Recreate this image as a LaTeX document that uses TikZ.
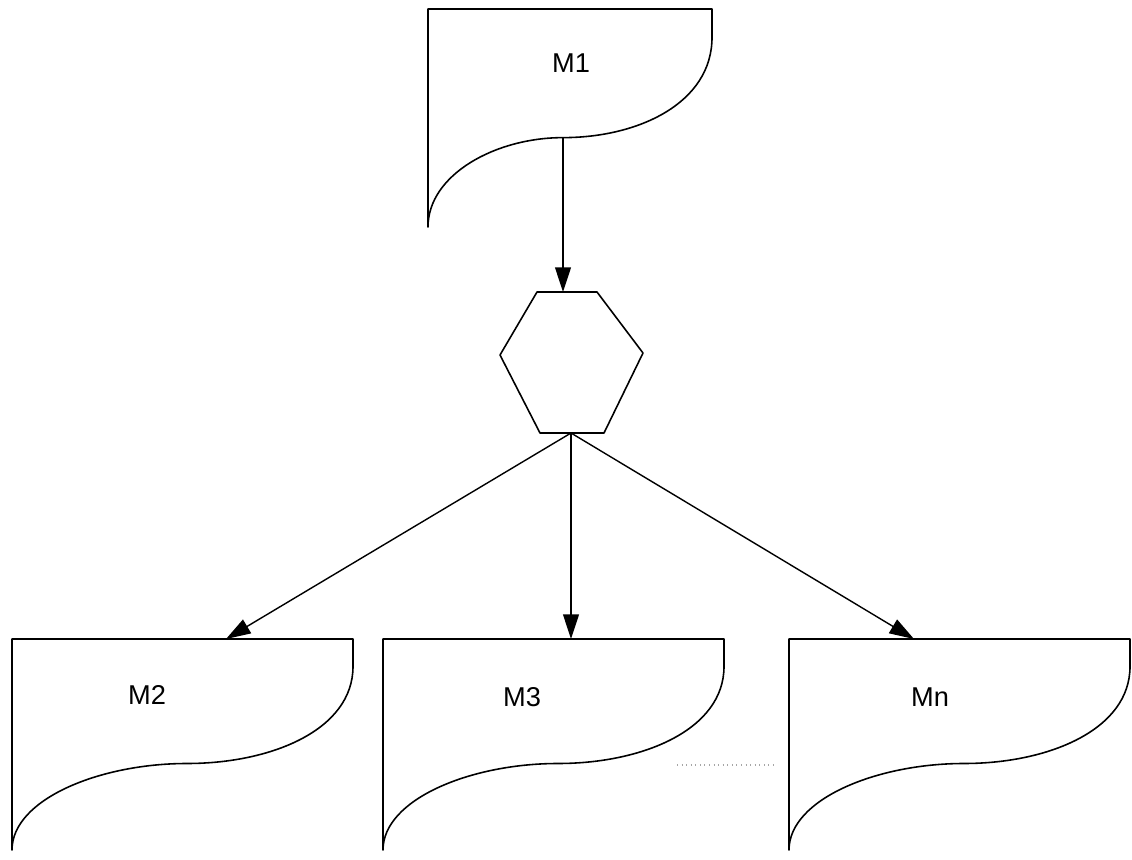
\documentclass[tikz,border=0pt]{standalone}
\usepackage{fontspec}
\setmainfont{Liberation Sans}
\usetikzlibrary{arrows.meta}
\tikzset{
  shapeline/.style={draw=black, line width=0.9pt, line join=round},
  conn/.style={draw=black, line width=0.8pt, -{Triangle[length=14pt,width=9pt]}},
  lbl/.style={font=\fontsize{15.5}{18}\selectfont, inner sep=0pt},
  dots/.style={draw=gray!70, line width=0.6pt, dotted}
}
% #1 x0, #2 y0 (top), #3 x1, #4 xm (x of flat middle of curve), #5 height
\newcommand\memshape[5]{%
  \pgfmathsetmacro\mya{#2+0.13*#5}%
  \pgfmathsetmacro\myb{#2+0.43*#5}%
  \pgfmathsetmacro\myc{#2+0.59*#5}%
  \pgfmathsetmacro\myd{#2+0.76*#5}%
  \pgfmathsetmacro\mye{#2+#5}%
  \pgfmathsetmacro\myf{#3-0.49*(#3-#4)}%
  \pgfmathsetmacro\myg{#4-0.5*(#4-#1)}%
  \draw[shapeline] (#1,#2) -- (#3,#2) -- (#3,\mya)
    .. controls (#3,\myb) and (\myf,\myc) .. (#4,\myc)
    .. controls (\myg,\myc) and (#1,\myd) .. (#1,\mye) -- cycle;
}
\begin{document}
\begin{tikzpicture}[x=0.02cm, y=-0.02cm]
\useasboundingbox (0,0) rectangle (1132,859);
% memory shapes
\memshape{428}{9}{712}{563}{218}
\memshape{12}{639}{353}{187}{211}
\memshape{383}{639}{724}{558}{211}
\memshape{789}{639}{1130}{964}{211}
% labels
\node[lbl] (m1) at (571,63) {M1};
\node[lbl] (m2) at (147,695) {M2};
\node[lbl] (m3) at (522,697) {M3};
\node[lbl] (mn) at (930,697) {Mn};
% connection points
\coordinate (m1out) at (563,137);
\coordinate (m2in) at (226,639);
\coordinate (m3in) at (571,639);
\coordinate (mnin) at (914,639);
% hexagon
\coordinate (hex) at (571,362);
\draw[shapeline] ([shift={(-34,-70)}]hex) -- ([shift={(26,-70)}]hex)
  -- ([shift={(72,-9)}]hex) -- ([shift={(33,71)}]hex)
  -- ([shift={(-31,71)}]hex) -- ([shift={(-71,-7)}]hex) -- cycle;
\coordinate (hextop) at ([shift={(0,-70)}]hex);
\coordinate (hexbot) at ([shift={(0,71)}]hex);
% connectors
\draw[conn] (m1out) -- (m1out |- hextop);
\draw[conn] (hexbot) -- (m2in);
\draw[conn] (hexbot) -- (m3in);
\draw[conn] (hexbot) -- (mnin);
% dotted ellipsis
\coordinate (dotA) at (677,765);
\coordinate (dotB) at (773,765);
\draw[dots] (dotA) -- (dotB);
\end{tikzpicture}
\end{document}
